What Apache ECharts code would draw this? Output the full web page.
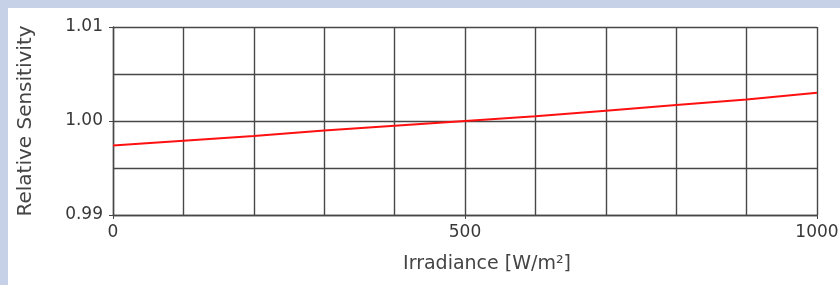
<!DOCTYPE html>
<html>
<head>
<meta charset="utf-8">
<script src="https://cdn.jsdelivr.net/npm/echarts@6/dist/echarts.min.js"></script>
<style>
    html, body { margin: 0; padding: 0; background: #c6d0e6; }
    #main { position: absolute; left: 8px; top: 8px; width: 832px; height: 277px; background: #fff; }
</style>
</head>
<body>
<div id="main"></div>
<script type="text/javascript">
    // irradiance (W/m²) and relative sensitivity
    var irradiance = [0, 100, 200, 300, 400, 500, 600, 700, 800, 900, 1000];
    var sensitivity = [0.9974, 0.9979, 0.9984, 0.9990, 0.9995, 1.0000, 1.0005, 1.0011, 1.0017, 1.0023, 1.0030];
    var xTicks = [0, 500, 1000];
    var yTicks = ['0.99', '1.00', '1.01'];

    var chart = echarts.init(document.getElementById('main'));

    var points = irradiance.map(function (x, i) { return [x, sensitivity[i]]; });
    var lineCol = '#474747';
    var gridLine = { lineStyle: { color: lineCol, width: 1.4 } };

    chart.setOption({
        animation: false,
        grid: { left: 105, top: 19, right: 23, bottom: 70, outerBoundsMode: 'none', containLabel: false },
        xAxis: {
            type: 'value',
            min: 0, max: 1000, interval: 500,
            name: 'Irradiance [W/m²]',
            nameLocation: 'middle',
            nameGap: 40,
            nameTextStyle: { fontFamily: 'DejaVu Sans', fontSize: 19, color: '#444', padding: [0, 0, 0, 44] },
            axisLine: { show: true, lineStyle: { color: lineCol, width: 1.4 } },
            axisTick: { show: true, length: 4, lineStyle: { color: lineCol } },
            axisLabel: {
                margin: 9, fontFamily: 'DejaVu Sans', fontSize: 17, color: '#383838',
                formatter: function (v) { return xTicks.indexOf(v) >= 0 ? String(v) : ''; }
            },
            splitLine: gridLine,
            minorTick: { show: false, splitNumber: 5 },
            minorSplitLine: { show: true, lineStyle: { color: lineCol, width: 1.4 } }
        },
        yAxis: {
            type: 'value',
            min: 0.99, max: 1.01, interval: 0.01,
            name: 'Relative Sensitivity',
            nameLocation: 'middle',
            nameGap: 77,
            nameTextStyle: { fontFamily: 'DejaVu Sans', fontSize: 20, color: '#444' },
            axisLine: { show: true, lineStyle: { color: lineCol, width: 1.4 } },
            axisTick: { show: true, length: 4, lineStyle: { color: lineCol } },
            axisLabel: {
                margin: 10, fontFamily: 'DejaVu Sans', fontSize: 17, color: '#383838',
                formatter: function (v) { return yTicks[Math.round((v - 0.99) * 100)]; }
            },
            splitLine: gridLine,
            minorTick: { show: false, splitNumber: 2 },
            minorSplitLine: { show: true, lineStyle: { color: lineCol, width: 1.4 } }
        },
        series: [{
            type: 'line',
            data: points,
            showSymbol: false,
            lineStyle: { color: '#ff1010', width: 2 }
        }]
    });
</script>
</body>
</html>
